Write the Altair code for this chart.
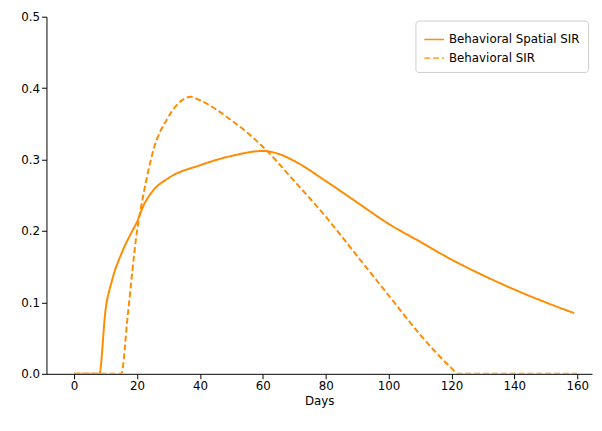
import altair as alt
import pandas as pd

days_s = [0, 8, 10, 12, 15, 18, 20, 22, 25, 30, 40, 50, 60, 65, 70, 80, 90, 100, 110, 120, 130, 140, 150, 159]
vals_s = [0, 0, 0.09, 0.13, 0.168, 0.196, 0.213, 0.235, 0.256, 0.274, 0.292, 0.305, 0.312, 0.308, 0.298, 0.27, 0.24, 0.21, 0.185, 0.16, 0.138, 0.118, 0.1, 0.085]
days_d = [0, 15, 17, 20, 22, 25, 30, 35, 37, 40, 50, 60, 70, 80, 90, 100, 110, 120, 122, 140, 160]
vals_d = [0, 0, 0.08, 0.2, 0.25, 0.31, 0.36, 0.385, 0.388, 0.383, 0.355, 0.318, 0.27, 0.22, 0.165, 0.11, 0.055, 0.008, 0, 0, 0]

names = ["Behavioral Spatial SIR", "Behavioral SIR"]
df = pd.concat([
    pd.DataFrame({"Days": days_s, "v": vals_s, "model": names[0]}),
    pd.DataFrame({"Days": days_d, "v": vals_d, "model": names[1]}),
])

chart = alt.Chart(df).mark_line(color="#ff8c00", strokeWidth=2, clip=True, interpolate="monotone").encode(
    x=alt.X("Days:Q", scale=alt.Scale(domain=[-8.8, 164.7], nice=False),
            axis=alt.Axis(values=list(range(0, 161, 20)), grid=False, title="Days")),
    y=alt.Y("v:Q", scale=alt.Scale(domain=[0, 0.5], nice=False),
            axis=alt.Axis(values=[0, 0.1, 0.2, 0.3, 0.4, 0.5], format=".1f", grid=False, title=None)),
    strokeDash=alt.StrokeDash("model:N", sort=names,
        scale=alt.Scale(domain=names, range=[[1, 0], [6, 3]]),
        legend=alt.Legend(title=None, orient="top-right", offset=4, strokeColor="#cccccc",
                          fillColor="white", padding=8, labelFontSize=12, symbolStrokeColor="#ff8c00",
                          symbolType="stroke", symbolSize=400, cornerRadius=3)),
    detail="model:N",
).properties(width=553, height=362, padding={"left": 39, "top": 6, "right": 2, "bottom": 45},
             autosize=alt.AutoSizeParams(type="none")
).configure_view(stroke=None).configure_axis(
    domainColor="black", tickColor="black", labelColor="black", labelFontSize=12,
    titleFontSize=12, titleFontWeight="normal", labelFont="DejaVu Sans", titleFont="DejaVu Sans"
).configure_legend(labelFont="DejaVu Sans")

chart.save("out.html", embed_options={"renderer": "svg", "actions": False})
